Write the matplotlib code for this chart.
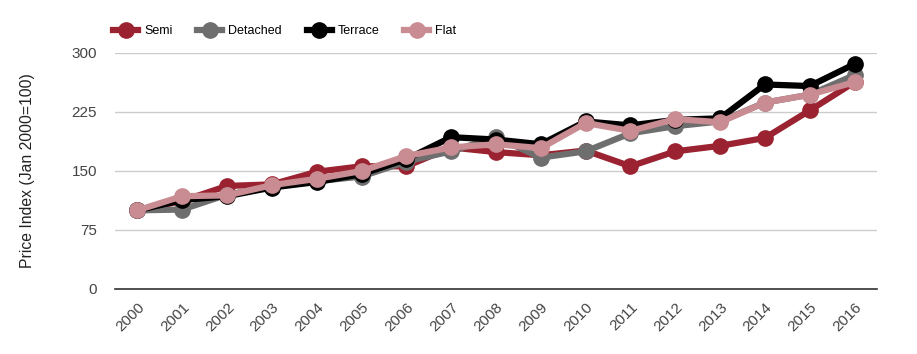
import matplotlib
matplotlib.use("Agg")
import matplotlib.pyplot as plt

plt.rcParams['font.family'] = ['Liberation Sans', 'DejaVu Sans']

years = ["2000", "2001", "2002", "2003", "2004", "2005", "2006", "2007", "2008",
         "2009", "2010", "2011", "2012", "2013", "2014", "2015", "2016"]
semi = [100, 112, 131, 133, 149, 156, 156, 180, 174, 170, 176, 156, 175, 182, 192, 227, 263]
detached = [100, 101, 120, 130, 137, 143, 162, 175, 193, 167, 175, 198, 207, 213, 237, 247, 272]
terrace = [100, 113, 118, 129, 136, 146, 165, 193, 190, 184, 213, 208, 215, 217, 260, 258, 286]
flat = [100, 118, 119, 132, 140, 150, 169, 180, 184, 179, 211, 201, 216, 212, 237, 247, 263]

series = [("Semi", semi, "#9b2230"),
          ("Detached", detached, "#6e6e6e"),
          ("Terrace", terrace, "#000000"),
          ("Flat", flat, "#c98c92")]

fig = plt.figure(figsize=(9.17, 3.54), dpi=100)
ax = fig.add_axes([115/917, 1-289/354, (877-115)/917, 236/354])

x = list(range(len(years)))
for name, vals, col in series:
    ax.plot(x, vals, color=col, lw=4.5, marker='o', markersize=11,
            solid_joinstyle='round', label=name)

ax.set_xlim(-0.5, len(years)-0.5)
ax.set_ylim(0, 300)
ax.set_yticks([0, 75, 150, 225, 300])
ax.set_xticks(x)
ax.set_xticklabels(years, rotation=45, ha='right', rotation_mode='anchor')
ax.tick_params(axis='both', length=0, labelsize=11, colors='#444444')
ax.tick_params(axis='y', pad=13)
ax.tick_params(axis='x', pad=8)
ax.grid(axis='y', color='#cccccc', lw=1)
ax.set_axisbelow(True)
for s in ['top', 'right', 'left']:
    ax.spines[s].set_visible(False)
ax.spines['bottom'].set_color('#333333')
ax.spines['bottom'].set_linewidth(1.2)
ax.set_ylabel("Price Index (Jan 2000=100)", fontsize=11.3, color='#222222', labelpad=26)

ax.legend(loc='center left', bbox_to_anchor=(-0.002, 1.0 + 22/236), ncol=4, frameon=False,
          fontsize=9, handlelength=2.0, columnspacing=2.0, handletextpad=0.45,
          borderpad=0, borderaxespad=0)

fig.savefig("out.png", dpi=100)
